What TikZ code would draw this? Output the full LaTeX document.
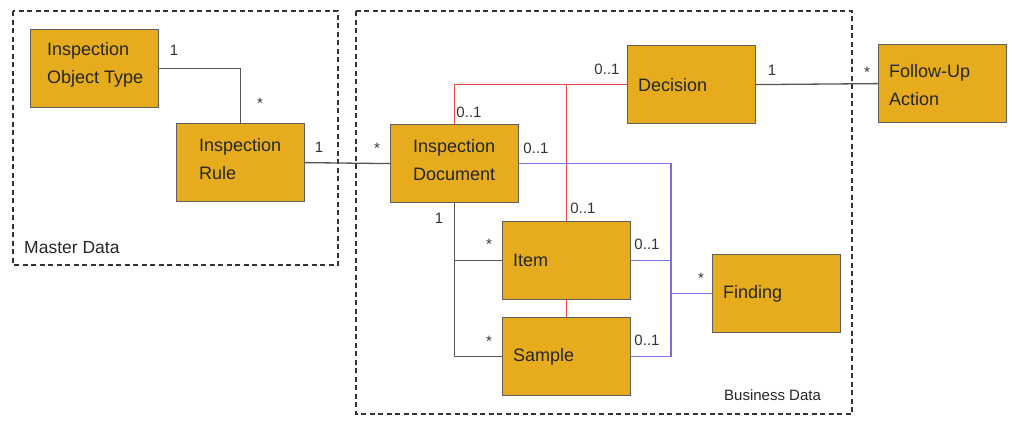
\documentclass[tikz,border=0pt]{standalone}
\usepackage{fontspec}
\setmainfont{Liberation Sans}
\definecolor{boxfill}{RGB}{230,172,30}
\definecolor{boxline}{RGB}{95,95,95}
\definecolor{relred}{RGB}{240,70,70}
\definecolor{relblue}{RGB}{120,110,230}
\definecolor{relgray}{RGB}{85,85,85}
\tikzset{
    entity/.style = {
        draw=boxline,
        fill=boxfill,
        line width=1.2pt,
        minimum width=128pt,
        minimum height=78pt,
        anchor=north west,
        inner sep=0pt
    },
    entitytext/.style = {
        anchor=west,
        align=left,
        inner sep=0pt,
        font=\fontsize{18}{28}\selectfont,
        text=black!85
    },
    mult/.style = {
        inner sep=0pt,
        font=\fontsize{15}{18}\selectfont,
        text=black!80
    },
    assoc/.style = {
        relgray,
        line width=1.3pt
    },
    decide/.style = {
        relred,
        line width=1.3pt
    },
    find/.style = {
        relblue,
        line width=1.3pt
    },
    area/.style = {
        draw=black!80,
        dash pattern=on 5pt off 3.5pt,
        line width=1.2pt
    }
}

\begin{document}
\begin{tikzpicture}[x=1pt,y=-1pt]
    \useasboundingbox (0,0) rectangle (1012,421);

    % Data areas
    \draw[area] (13,11) rectangle (338,265);
    \draw[area] (356,11) rectangle (852,414);
    \node[anchor=west, inner sep=0pt, font=\fontsize{17.5}{20}\selectfont, text=black!85] (master) at (24,248) {Master Data};
    \node[anchor=west, inner sep=0pt, font=\fontsize{15}{18}\selectfont, text=black!85] (business) at (724,395) {Business Data};

    % Master data entities
    \node[entity] (iot) at (30,29) {};
    \node[entitytext] (iottext) at ([xshift=17pt,yshift=4pt]iot.west) {Inspection\\Object Type};
    \node[entity] (rule) at (176,123) {};
    \node[entitytext] (ruletext) at ([xshift=23pt,yshift=3.5pt]rule.west) {Inspection\\Rule};

    % Business data entities
    \node[entity] (doc) at (390,124) {};
    \node[entitytext] (doctext) at ([xshift=23pt,yshift=4pt]doc.west) {Inspection\\Document};
    \node[entity] (dec) at (627,45) {};
    \node[entitytext] (dectext) at ([xshift=11pt]dec.west) {Decision};
    \node[entity] (item) at (502,221) {};
    \node[entitytext] (itemtext) at ([xshift=11pt]item.west) {Item};
    \node[entity] (sample) at (502,317) {};
    \node[entitytext] (sampletext) at ([xshift=11pt]sample.west) {Sample};
    \node[entity] (finding) at (712,254) {};
    \node[entitytext] (findingtext) at ([xshift=11pt]finding.west) {Finding};

    % Outside
    \node[entity] (action) at (878,44) {};
    \node[entitytext] (actiontext) at ([xshift=11pt,yshift=-1pt]action.west) {Follow-Up\\Action};

    % Associations
    \draw[assoc] (iot.east) -| (rule.north);
    \draw[assoc] (rule.east) -- (doc.west);
    \draw[assoc] (doc.south) |- (sample.west);
    \draw[assoc] (item.west) -- (item.west -| doc.south);
    \draw[assoc] (dec.east) -- (action.west);

    %Decision links
    \draw[decide] (doc.north) |- (dec.west);
    \draw[decide] (item.north) -- (item.north |- dec.west);
    \draw[decide] (item.south) -- (sample.north);

    %Finding links
    \coordinate (jn) at (671,0);
    \draw[find] (doc.east) -| (jn |- sample.east) -- (sample.east);
    \draw[find] (item.east) -- (item.east -| jn);
    \draw[find] (finding.west) -- (finding.west -| jn);

    % Multiplicities
    \node[mult] (m1) at (174,50) {1};
    \node[mult] (m2) at (260,103) {*};
    \node[mult] (m3) at (319,147) {1};
    \node[mult] (m4) at (377,148) {*};
    \node[mult] (m5) at (469,112) {0..1};
    \node[mult] (m6) at (607,69) {0..1};
    \node[mult] (m7) at (536,148) {0..1};
    \node[mult] (m8) at (583,208) {0..1};
    \node[mult] (m9) at (439,218) {1};
    \node[mult] (m10) at (489,244) {*};
    \node[mult] (m11) at (647,244) {0..1};
    \node[mult] (m12) at (701,278) {*};
    \node[mult] (m13) at (489,341) {*};
    \node[mult] (m14) at (647,340) {0..1};
    \node[mult] (m15) at (772,70) {1};
    \node[mult] (m16) at (867,72) {*};
\end{tikzpicture}
\end{document}
